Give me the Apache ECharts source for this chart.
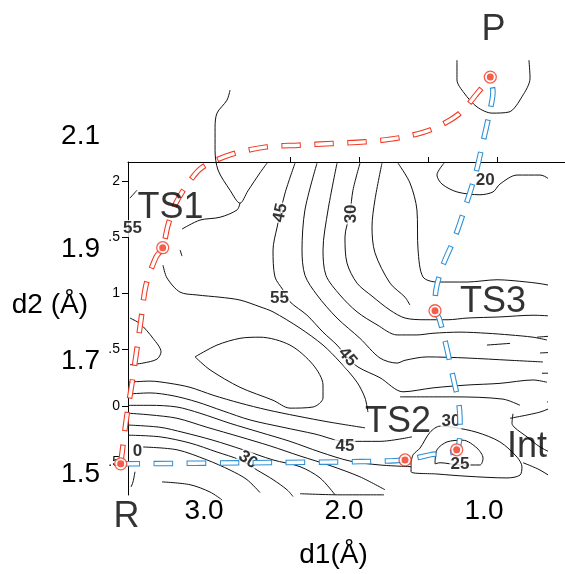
<!DOCTYPE html>
<html>
<head>
<meta charset="utf-8">
<title>d1 / d2 reaction surface</title>
<script src="https://cdn.jsdelivr.net/npm/echarts@6/dist/echarts.min.js"></script>
<style>
  html, body { margin: 0; padding: 0; background: #fff; }
  #chart { width: 565px; height: 574px; }
</style>
</head>
<body>
<div id="chart"></div>
<script>
const FONT = "'Liberation Sans', Arial, sans-serif";
const INK = "#000";
const RED = "#f4361f";
const BLUE = "#2a8fd4";

// outer axes (Å)
const d1Ticks = [3, 2, 1];
const d2Ticks = [1.5, 1.7, 1.9, 2.1];

// inner (original plot) frame
const innerLeftTicks = [2, 1.5, 1, 0.5, 0, -0.5];
const innerLeftLabels = ["2", ".5", "1", ".5", "0", ".5"];
const innerTopTicks = [0, 1, 2, 3];

// stationary points, [d1, d2]
const pointNames = ["R", "TS1", "TS2", "Int", "TS3", "P"];
const pointD1 = [3.595, 3.295, 1.564, 1.195, 1.35, 0.955];
const pointD2 = [1.518, 1.902, 1.525, 1.543, 1.790, 2.205];

// big labels: [d1, d2, text]
const pointLabels = [
  [3.554, 1.424, "R"], [3.239, 1.973, "TS1"], [0.932, 2.289, "P"],
  [0.936, 1.805, "TS3"], [1.614, 1.593, "TS2"], [0.693, 1.547, "Int"]
];

// contour labels: [d1, d2, text, rotation]
const contourLabels = [
  [3.511, 1.936, "55", 0], [2.454, 1.964, "45", 78], [1.951, 1.962, "30", 90],
  [2.461, 1.812, "55", 0], [1.975, 1.708, "45", -50], [1.993, 1.550, "45", 0],
  [2.686, 1.525, "30", -35], [3.475, 1.541, "0", 0], [1.236, 1.593, "30", 0],
  [1.171, 1.517, "25", 0], [0.991, 2.022, "20", 0]
];

// reaction paths
const redPath = [
  [3.595, 1.518], [3.581, 1.546], [3.552, 1.602], [3.514, 1.662], [3.481, 1.719],
  [3.45, 1.774], [3.414, 1.836], [3.343, 1.885], [3.295, 1.902], [3.257, 1.942],
  [3.207, 1.978], [3.136, 2.008], [3.016, 2.044], [2.8, 2.068], [2.552, 2.081],
  [2.324, 2.084], [2.086, 2.087], [1.85, 2.09], [1.609, 2.097], [1.386, 2.111],
  [1.181, 2.139], [1.026, 2.183], [0.955, 2.205]
];
const bluePath = [
  [3.595, 1.518], [2.671, 1.520], [1.886, 1.522], [1.564, 1.525], [1.386, 1.534],
  [1.195, 1.543], [1.171, 1.587], [1.179, 1.623], [1.221, 1.672], [1.271, 1.729],
  [1.321, 1.777], [1.35, 1.790], [1.343, 1.827], [1.293, 1.871], [1.207, 1.921],
  [1.129, 1.978], [1.057, 2.036], [1.007, 2.090], [0.964, 2.138], [0.936, 2.179],
  [0.955, 2.205]
];

// contour lines
const cTopRidge = [[2.814, 2.182], [2.836, 2.164], [2.907, 2.141], [2.921, 2.116], [2.921, 2.075], [2.9, 2.040], [2.814, 2.004], [2.743, 1.981], [2.686, 2.003], [2.6, 2.035], [2.55, 2.052]];
const cTopBranch = [[2.743, 1.981], [2.764, 1.969], [2.886, 1.956], [3.029, 1.951], [3.157, 1.935]];
const cTickA = [[3.529, 1.990], [3.479, 2.004]];
const cTickB = [[3.171, 1.898], [3.157, 1.887]];
const cT = [[3.293, 1.871], [3.264, 1.848], [3.171, 1.823], [3.05, 1.818], [2.886, 1.814], [2.743, 1.809], [2.6, 1.797], [2.507, 1.788], [2.314, 1.759], [2.15, 1.729], [2.029, 1.699], [1.907, 1.663], [1.85, 1.635], [1.829, 1.610]];
const cS = [[2.35, 2.052], [2.421, 1.999], [2.479, 1.937], [2.507, 1.898], [2.493, 1.850], [2.436, 1.827], [2.386, 1.806], [2.264, 1.782], [2.15, 1.752], [2.05, 1.729], [1.979, 1.708], [1.9, 1.690], [1.743, 1.671], [1.579, 1.646], [1.364, 1.653], [1.121, 1.658], [0.886, 1.661], [0.65, 1.667], [0.55, 1.663]];
const cA = [[2.193, 2.052], [2.279, 1.969], [2.3, 1.898], [2.279, 1.853], [2.193, 1.818], [2.05, 1.777], [1.886, 1.741], [1.743, 1.706], [1.621, 1.697], [1.564, 1.702], [1.407, 1.708], [1.121, 1.706], [0.814, 1.702], [0.579, 1.699]];
const cB = [[2.05, 2.052], [2.114, 1.969], [2.15, 1.898], [2.129, 1.853], [2.029, 1.818], [1.907, 1.788], [1.764, 1.765], [1.621, 1.747], [1.479, 1.747], [1.364, 1.750], [1.171, 1.752], [0.979, 1.750], [0.814, 1.747], [0.65, 1.743], [0.55, 1.738]];
const cC = [[1.886, 2.052], [1.936, 2.004], [1.957, 1.964], [1.993, 1.921], [1.979, 1.875], [1.907, 1.839], [1.8, 1.816], [1.671, 1.791], [1.564, 1.777], [1.421, 1.774], [1.257, 1.774], [1.121, 1.777], [0.886, 1.779], [0.65, 1.782], [0.421, 1.779]];
const cD = [[1.729, 2.052], [1.779, 1.987], [1.8, 1.939], [1.779, 1.893], [1.671, 1.839], [1.564, 1.814], [1.529, 1.800]];
const cE = [[1.614, 2.052], [1.529, 2.017], [1.479, 1.969], [1.471, 1.898], [1.436, 1.850], [1.336, 1.841], [1.121, 1.841], [0.907, 1.845], [0.693, 1.841], [0.55, 1.836], [0.421, 1.827]];
const cF = [[1.286, 2.052], [1.336, 2.031], [1.3, 2.015], [1.193, 2.001], [1.029, 1.996], [0.936, 2.001], [0.886, 2.015], [0.764, 2.031], [0.6, 2.031], [0.493, 2.010], [0.479, 1.956], [0.479, 1.898], [0.457, 1.850], [0.436, 1.823]];
const cProductWell = [[1.193, 2.235], [1.193, 2.200], [1.143, 2.177], [1.05, 2.152], [0.943, 2.141], [0.821, 2.143], [0.729, 2.170], [0.671, 2.203], [0.679, 2.235]];
const cLeftLobe = [[3.529, 1.777], [3.457, 1.767], [3.364, 1.741], [3.307, 1.717], [3.336, 1.704], [3.436, 1.697], [3.529, 1.694]];
const cEllipse = [[3.064, 1.708], [2.907, 1.729], [2.743, 1.741], [2.6, 1.743], [2.386, 1.729], [2.221, 1.694], [2.15, 1.658], [2.15, 1.635], [2.221, 1.619], [2.386, 1.617], [2.507, 1.631], [2.743, 1.654], [2.957, 1.685], [3.064, 1.708]];
const cL1 = [[3.543, 1.663], [3.386, 1.665], [3.243, 1.661], [3.1, 1.654], [2.936, 1.640], [2.743, 1.626], [2.55, 1.614], [2.336, 1.603], [2.1, 1.592], [1.85, 1.582]];
const cL2 = [[3.543, 1.642], [3.386, 1.644], [3.221, 1.639], [3.05, 1.628], [2.864, 1.612], [2.671, 1.596], [2.436, 1.583], [2.207, 1.571], [1.993, 1.558], [1.743, 1.558], [1.514, 1.566]];
const cL3 = [[3.543, 1.622], [3.386, 1.622], [3.193, 1.619], [3.029, 1.608], [2.814, 1.590], [2.6, 1.574], [2.386, 1.558], [2.171, 1.539], [1.957, 1.523], [1.743, 1.516], [1.521, 1.513]];
const cL4 = [[3.543, 1.608], [3.386, 1.605], [3.193, 1.599], [2.979, 1.583], [2.743, 1.566], [2.529, 1.550], [2.314, 1.532], [2.1, 1.515], [1.886, 1.495], [1.707, 1.472]];
const cL5 = [[3.543, 1.587], [3.314, 1.583], [3.15, 1.574], [2.936, 1.560], [2.721, 1.543], [2.507, 1.525], [2.314, 1.513], [2.171, 1.493], [2.064, 1.463]];
const cL6 = [[3.543, 1.569], [3.314, 1.566], [3.1, 1.555], [2.907, 1.539], [2.743, 1.525], [2.621, 1.507], [2.507, 1.490], [2.407, 1.472], [2.364, 1.460]];
const cL7 = [[3.436, 1.548], [3.193, 1.543], [2.979, 1.525], [2.814, 1.507], [2.693, 1.490], [2.6, 1.467]];
const cL8 = [[3.3, 1.486], [3.1, 1.481], [2.957, 1.468], [2.871, 1.454]];
const cBelowR = [[3.493, 1.504], [3.507, 1.486], [3.521, 1.477]];
const cBottom = [[2.314, 1.465], [2.029, 1.463], [1.714, 1.463]];
const cIntOuter = [[1.521, 1.520], [1.507, 1.534], [1.457, 1.546], [1.386, 1.574], [1.314, 1.585], [1.221, 1.583], [1.05, 1.574], [0.886, 1.557], [0.764, 1.530], [0.729, 1.513], [0.743, 1.498], [0.836, 1.493], [1.121, 1.496], [1.336, 1.500], [1.521, 1.504], [1.521, 1.520]];
const cIntInner = [[1.35, 1.518], [1.336, 1.543], [1.264, 1.557], [1.15, 1.560], [1.05, 1.546], [1.007, 1.528], [1.029, 1.516], [1.171, 1.516], [1.314, 1.520], [1.35, 1.518]];
const cR1 = [[0.814, 1.599], [0.6, 1.610], [0.479, 1.622], [0.421, 1.626]];
const cR2 = [[0.793, 1.607], [0.8, 1.590], [0.779, 1.582], [0.693, 1.566], [0.6, 1.548], [0.457, 1.530], [0.421, 1.525]];
const cR3 = [[0.721, 1.520], [0.6, 1.507], [0.457, 1.484], [0.421, 1.476]];
const cR4 = [[1.6, 1.637], [1.221, 1.637], [0.864, 1.633], [0.743, 1.622]];
const cStub1 = [[0.621, 1.743], [0.421, 1.747]];
const cStub2 = [[0.6, 1.715], [0.421, 1.717]];
const cStub3 = [[0.586, 1.679], [0.421, 1.679]];
const cStub4 = [[0.55, 1.628], [0.421, 1.631]];
const cStub5 = [[0.979, 1.729], [0.814, 1.732]];

const contours = [
  cTopRidge, cTopBranch, cTickA, cTickB, cT, cS, cA, cB, cC, cD, cE, cF, cProductWell,
  cLeftLobe, cEllipse, cL1, cL2, cL3, cL4, cL5, cL6, cL7, cL8, cBelowR, cBottom,
  cIntOuter, cIntInner, cR1, cR2, cR3, cR4, cStub1, cStub2, cStub3, cStub4, cStub5
];

function innerLabel(value) {
  const i = innerLeftTicks.findIndex((t) => Math.abs(t - value) < 1e-6);
  return i < 0 ? "" : innerLeftLabels[i];
}

function hollowDash(name, data, color) {
  const base = { type: "line", name, data, symbol: "none", smooth: 0.3, clip: false, silent: true };
  return [
    { ...base, z: 4, lineStyle: { color, width: 5.5, type: [19.5, 13.5], cap: "butt" } },
    { ...base, z: 5, lineStyle: { color: "#fff", width: 3.4, type: [17.5, 15.5], dashOffset: -1, cap: "butt" } }
  ];
}

function chartOption() {
  const contourSeries = contours.map((data) => ({
    type: "line",
    data,
    symbol: "none",
    smooth: 0.3,
    clip: false,
    silent: true,
    z: 2,
    lineStyle: { color: "#111", width: 1 }
  }));

  const points = pointNames.map((name, i) => ({ name, value: [pointD1[i], pointD2[i]] }));

  return {
    animation: false,
    backgroundColor: "#fff",
    textStyle: { fontFamily: FONT },
    grid: [
      { left: 120, width: 427, top: 108.05, height: 394.1, outerBoundsMode: "none", containLabel: false },
      { left: 128, right: 0, top: 162, bottom: 79, outerBoundsMode: "none", containLabel: false }
    ],
    xAxis: [
      {
        type: "value",
        gridIndex: 0,
        min: 0.55,
        max: 3.6,
        inverse: true,
        position: "bottom",
        axisLine: { show: false, onZero: false },
        axisTick: { show: false },
        splitLine: { show: false },
        axisLabel: {
          customValues: d1Ticks,
          formatter: (v) => v.toFixed(1),
          color: INK,
          fontSize: 28,
          fontFamily: FONT,
          margin: -5
        },
        name: "d1(Å)",
        nameLocation: "middle",
        nameGap: 39,
        nameMoveOverlap: false,
        nameTextStyle: { color: INK, fontSize: 28, fontFamily: FONT }
      },
      {
        type: "value",
        gridIndex: 1,
        min: -2.348,
        max: 3.985,
        position: "top",
        axisLine: { show: true, onZero: false, lineStyle: { color: INK, width: 1 } },
        axisTick: { show: true, customValues: innerTopTicks, length: 5, lineStyle: { color: INK } },
        axisLabel: { show: false },
        splitLine: { show: false }
      }
    ],
    yAxis: [
      {
        type: "value",
        gridIndex: 0,
        min: 1.45,
        max: 2.15,
        axisLine: { show: false, onZero: false },
        axisTick: { show: false },
        splitLine: { show: false },
        axisLabel: {
          customValues: d2Ticks,
          formatter: (v) => v.toFixed(1),
          color: INK,
          fontSize: 28,
          fontFamily: FONT,
          margin: 20
        },
        name: "d2 (Å)",
        nameLocation: "middle",
        nameRotate: 0,
        nameGap: 32,
        nameMoveOverlap: false,
        nameTextStyle: { color: INK, fontSize: 28, fontFamily: FONT }
      },
      {
        type: "value",
        gridIndex: 1,
        min: -0.794,
        max: 2.169,
        position: "left",
        axisLine: { show: true, onZero: false, lineStyle: { color: INK, width: 1 } },
        axisTick: { show: true, customValues: innerLeftTicks, length: 6, lineStyle: { color: INK } },
        axisLabel: {
          customValues: innerLeftTicks,
          formatter: innerLabel,
          color: INK,
          fontSize: 14,
          fontFamily: FONT,
          margin: 8
        },
        splitLine: { show: false }
      }
    ],
    series: [
      ...contourSeries,
      {
        type: "scatter",
        name: "contour labels",
        data: contourLabels.map(([d1, d2, text, rot]) => ({ name: text, value: [d1, d2], label: { rotate: rot } })),
        symbolSize: 0,
        clip: false,
        silent: true,
        z: 3,
        label: {
          show: true,
          position: "inside",
          formatter: "{b}",
          color: INK,
          fontSize: 17,
          fontWeight: "bold",
          fontFamily: FONT,
          backgroundColor: "#fff",
          padding: [0, 1]
        }
      },
      ...hollowDash("R-TS1-P", redPath, RED),
      ...hollowDash("R-TS2-Int-TS3-P", bluePath, BLUE),
      {
        type: "scatter",
        name: "ring",
        data: points,
        symbolSize: 12,
        clip: false,
        silent: true,
        z: 6,
        itemStyle: { color: "#fff", borderColor: RED, borderWidth: 1.3 }
      },
      {
        type: "scatter",
        name: "stationary points",
        data: points,
        symbolSize: 7,
        clip: false,
        silent: true,
        z: 7,
        itemStyle: { color: RED }
      },
      {
        type: "scatter",
        name: "point labels",
        data: pointLabels.map(([d1, d2, text]) => ({ name: text, value: [d1, d2] })),
        symbolSize: 0,
        clip: false,
        silent: true,
        z: 8,
        label: {
          show: true,
          position: "inside",
          formatter: "{b}",
          color: INK,
          fontSize: 36,
          fontFamily: FONT
        }
      }
    ]
  };
}

const chart = echarts.init(document.getElementById("chart"), null, { renderer: "canvas" });
chart.setOption(chartOption());
</script>
</body>
</html>
